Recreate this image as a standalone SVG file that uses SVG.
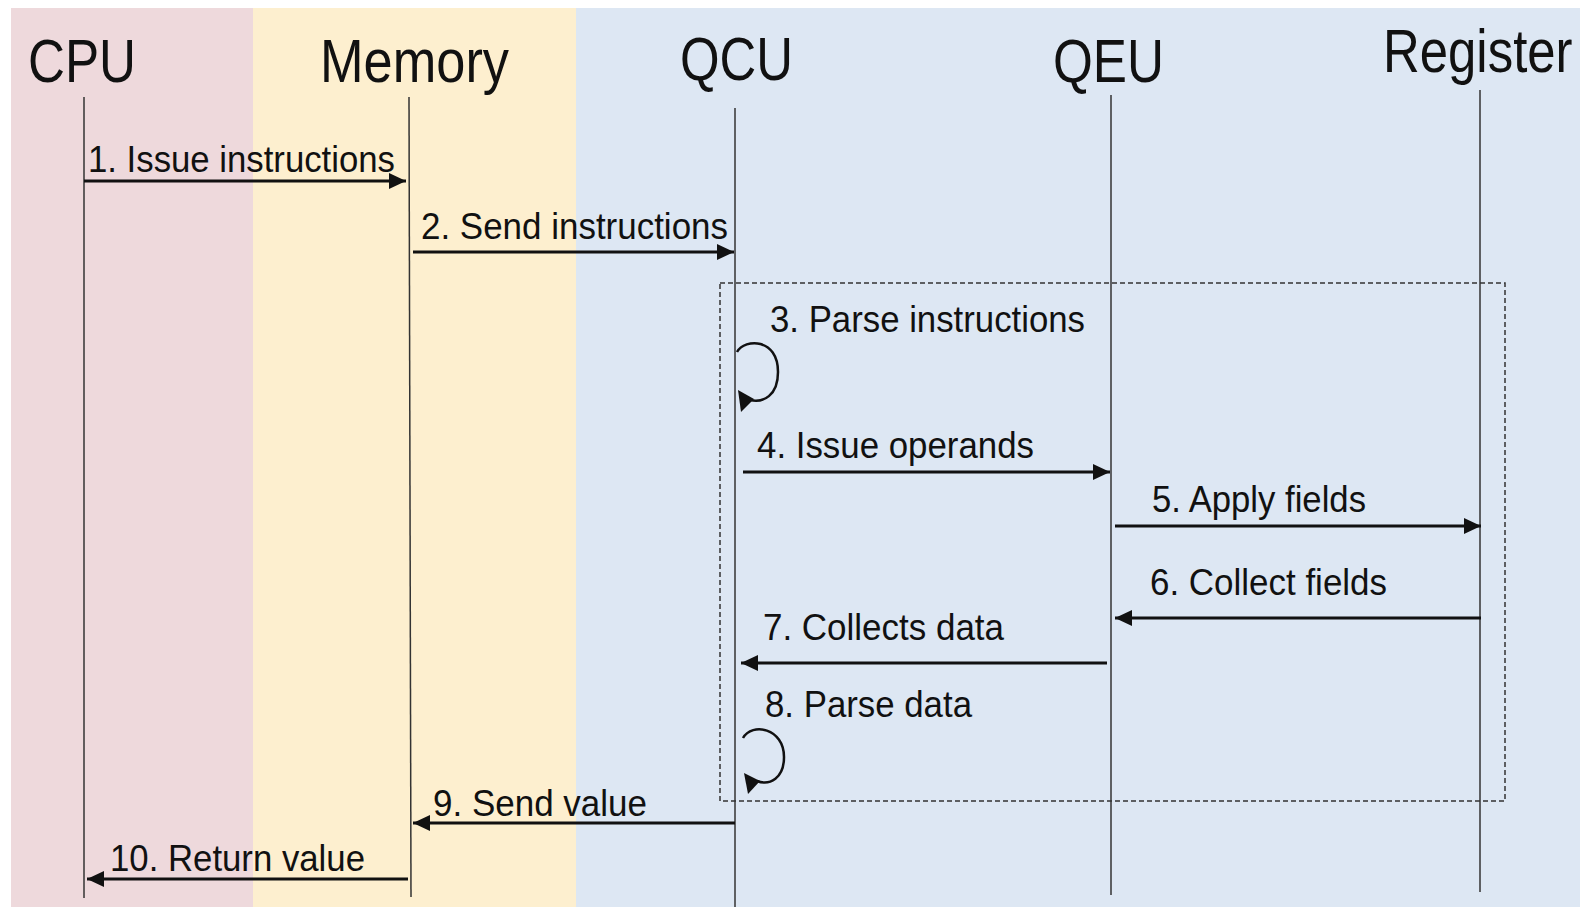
<svg xmlns="http://www.w3.org/2000/svg" width="1580" height="907" viewBox="0 0 1580 907">
  <style>
    .title { font-family: "Liberation Sans Narrow", "Liberation Sans", Arial, sans-serif; font-size: 62px; fill: #111; }
    .msg { font-family: "Liberation Sans Narrow", "Liberation Sans", Arial, sans-serif; font-size: 36px; fill: #111; }
    .life { stroke: #333; stroke-width: 1.5; fill: none; }
    .arrow { stroke: #111; stroke-width: 3; fill: none; marker-end: url(#ah); }
    .loop { stroke: #111; stroke-width: 2.5; fill: none; }
    .head { fill: #111; }
    .frame { stroke: #333; stroke-width: 1.5; fill: none; stroke-dasharray: 5 3; }
  </style>
  <defs>
    <marker id="ah" markerWidth="18" markerHeight="16" refX="17" refY="8" orient="auto" markerUnits="userSpaceOnUse">
      <path d="M0,0 L17,8 L0,16 z" fill="#111"/>
    </marker>
  </defs>
  <rect x="0" y="0" width="1580" height="907" fill="#ffffff"/>
  <g id="lanes">
    <rect x="11" y="8" width="242" height="899" fill="#EED9DC"/>
    <rect x="253" y="8" width="323" height="899" fill="#FDEFCF"/>
    <rect x="576" y="8" width="1004" height="899" fill="#DDE7F3"/>
  </g>
  <g id="cpu">
    <text class="title" x="28" y="82" textLength="108" lengthAdjust="spacingAndGlyphs">CPU</text>
    <line class="life" x1="84" y1="97" x2="84" y2="898"/>
  </g>
  <g id="memory">
    <text class="title" x="320" y="82" textLength="189" lengthAdjust="spacingAndGlyphs">Memory</text>
    <line class="life" x1="409" y1="97" x2="411" y2="897"/>
  </g>
  <g id="qcu">
    <text class="title" x="680" y="80" textLength="113" lengthAdjust="spacingAndGlyphs">QCU</text>
    <line class="life" x1="735" y1="108" x2="735" y2="907"/>
  </g>
  <g id="qeu">
    <text class="title" x="1053" y="82" textLength="111" lengthAdjust="spacingAndGlyphs">QEU</text>
    <line class="life" x1="1111" y1="95" x2="1111" y2="895"/>
  </g>
  <g id="register">
    <text class="title" transform="translate(1383 72) scale(0.81 1)" x="0" y="0" textLength="234" lengthAdjust="spacingAndGlyphs">Register</text>
    <line class="life" x1="1480" y1="90" x2="1480" y2="892"/>
  </g>
  <g id="frame">
    <rect class="frame" x="720" y="283" width="785" height="518"/>
  </g>
  <g id="connectors">
    <line class="arrow" x1="84" y1="181" x2="406" y2="181"/>
    <text class="msg" x="88" y="172" textLength="307" lengthAdjust="spacingAndGlyphs">1. Issue instructions</text>

    <line class="arrow" x1="413" y1="252" x2="734" y2="252"/>
    <text class="msg" x="421" y="239" textLength="307" lengthAdjust="spacingAndGlyphs">2. Send instructions</text>

    <text class="msg" x="770" y="332" textLength="315" lengthAdjust="spacingAndGlyphs">3. Parse instructions</text>
    <path class="loop" d="M737 352 C745 338 778 338 778 372 C778 396 763 403 750 400"/>
    <polygon class="head" points="738,390 754,399 741,412"/>

    <line class="arrow" x1="743" y1="472" x2="1110" y2="472"/>
    <text class="msg" x="757" y="458" textLength="277" lengthAdjust="spacingAndGlyphs">4. Issue operands</text>

    <line class="arrow" x1="1115" y1="526" x2="1481" y2="526"/>
    <text class="msg" x="1152" y="512" textLength="214" lengthAdjust="spacingAndGlyphs">5. Apply fields</text>

    <line class="arrow" x1="1481" y1="618" x2="1115" y2="618"/>
    <text class="msg" x="1150" y="595" textLength="237" lengthAdjust="spacingAndGlyphs">6. Collect fields</text>

    <line class="arrow" x1="1107" y1="663" x2="741" y2="663"/>
    <text class="msg" x="763" y="640" textLength="241" lengthAdjust="spacingAndGlyphs">7. Collects data</text>

    <text class="msg" x="765" y="717" textLength="207" lengthAdjust="spacingAndGlyphs">8. Parse data</text>
    <path class="loop" d="M743 738 C752 722 784 728 784 757 C784 778 770 786 757 781"/>
    <polygon class="head" points="744,773 760,781 748,794"/>

    <line class="arrow" x1="735" y1="823" x2="413" y2="823"/>
    <text class="msg" x="433" y="816" textLength="214" lengthAdjust="spacingAndGlyphs">9. Send value</text>

    <line class="arrow" x1="408" y1="879" x2="87" y2="879"/>
    <text class="msg" x="110" y="871" textLength="255" lengthAdjust="spacingAndGlyphs">10. Return value</text>
  </g>
</svg>
